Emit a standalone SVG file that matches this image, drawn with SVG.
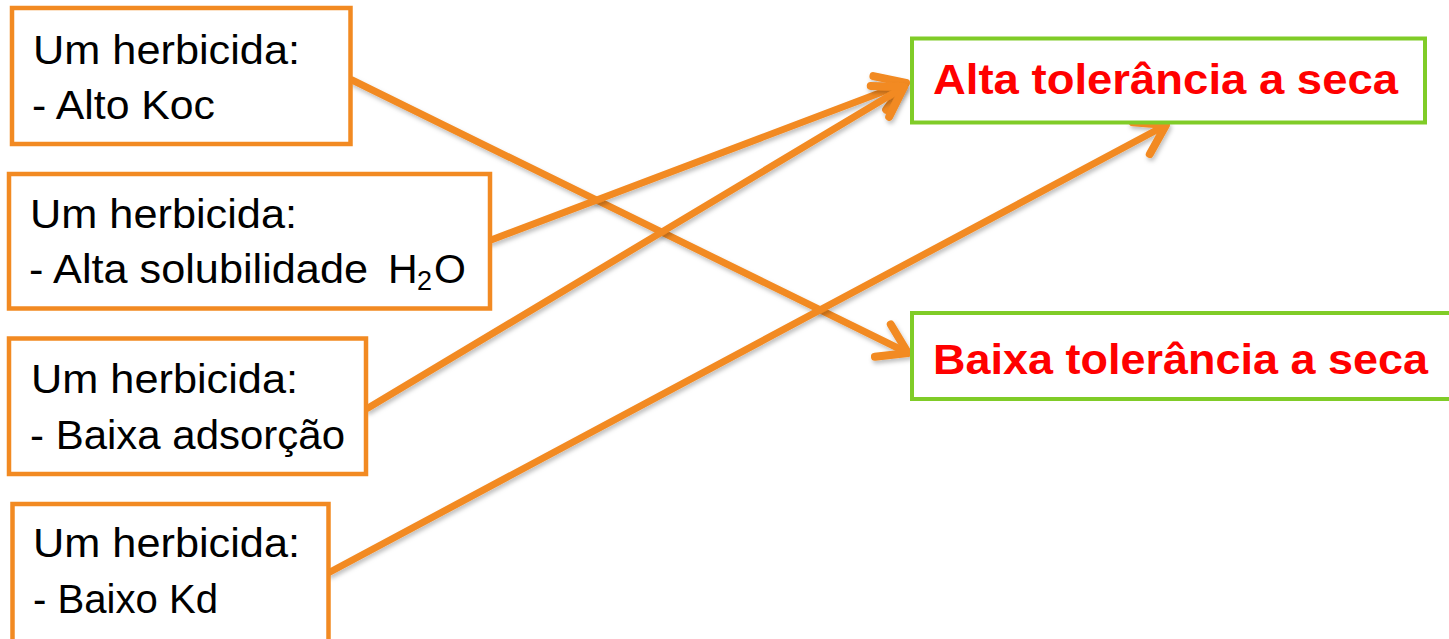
<svg xmlns="http://www.w3.org/2000/svg" width="1449" height="639" viewBox="0 0 1449 639">
<style>
  .src { fill: #ffffff; stroke: #F28A22; stroke-width: 4.5; }
  .dst { fill: #ffffff; stroke: #80CC28; stroke-width: 4; }
  .lbl { font-family: "Liberation Sans", Arial, sans-serif; font-size: 41px; fill: #000000; }
  .sub { font-family: "Liberation Sans", Arial, sans-serif; font-size: 27px; fill: #000000; }
  .res { font-family: "Liberation Sans", Arial, sans-serif; font-size: 42px; font-weight: bold; fill: #FF0000; }
  .conn { stroke: #F28A22; stroke-width: 7; fill: none; stroke-linecap: round; marker-end: url(#arrow); filter: url(#shadow); }
</style>
<defs>
  <marker id="arrow" markerUnits="userSpaceOnUse" markerWidth="60" markerHeight="60" refX="30" refY="30" orient="auto" overflow="visible">
    <path d="M2,12 L30,30 L2,48" fill="none" stroke="#F28A22" stroke-width="8" stroke-linecap="round" stroke-linejoin="round"/>
  </marker>
  <filter id="shadow" x="-10%" y="-10%" width="120%" height="130%">
    <feDropShadow dx="1.5" dy="3" stdDeviation="2" flood-color="#000000" flood-opacity="0.25"/>
  </filter>
</defs>
<rect width="1449" height="639" fill="#ffffff"/>

<g id="connectors">
  <line class="conn" x1="352" y1="80" x2="908" y2="353"/>
  <line class="conn" x1="491" y1="240" x2="906" y2="83"/>
  <line class="conn" x1="368" y1="408" x2="904" y2="87"/>
  <line class="conn" x1="330" y1="572" x2="1166" y2="125"/>
</g>

<g id="node-alto-koc">
  <rect class="src" x="12" y="8" width="338.5" height="136"/>
  <text class="lbl" x="33" y="64" textLength="267" lengthAdjust="spacingAndGlyphs">Um herbicida:</text>
  <text class="lbl" x="32" y="119" textLength="183" lengthAdjust="spacingAndGlyphs">- Alto Koc</text>
</g>

<g id="node-alta-solubilidade">
  <rect class="src" x="9" y="174" width="481" height="134.5"/>
  <text class="lbl" x="30" y="228" textLength="267" lengthAdjust="spacingAndGlyphs">Um herbicida:</text>
  <text class="lbl" x="29" y="283" textLength="339" lengthAdjust="spacingAndGlyphs">- Alta solubilidade</text>
  <text class="lbl" x="388" y="283">H</text>
  <text class="sub" x="417" y="290">2</text>
  <text class="lbl" x="434" y="283">O</text>
</g>

<g id="node-baixa-adsorcao">
  <rect class="src" x="9" y="338.5" width="357" height="135.5"/>
  <text class="lbl" x="31" y="393" textLength="267" lengthAdjust="spacingAndGlyphs">Um herbicida:</text>
  <text class="lbl" x="30" y="449" textLength="315" lengthAdjust="spacingAndGlyphs">- Baixa adsorção</text>
</g>

<g id="node-baixo-kd">
  <rect class="src" x="12.5" y="504" width="316" height="150"/>
  <text class="lbl" x="33" y="557" textLength="267" lengthAdjust="spacingAndGlyphs">Um herbicida:</text>
  <text class="lbl" x="33" y="613" textLength="185" lengthAdjust="spacingAndGlyphs">- Baixo Kd</text>
</g>

<g id="node-alta-tolerancia">
  <rect class="dst" x="912" y="38.5" width="513" height="84"/>
  <text class="res" x="933" y="94" textLength="465" lengthAdjust="spacingAndGlyphs">Alta tolerância a seca</text>
</g>

<g id="node-baixa-tolerancia">
  <rect class="dst" x="912" y="313" width="560" height="86"/>
  <text class="res" x="933" y="374" textLength="495" lengthAdjust="spacingAndGlyphs">Baixa tolerância a seca</text>
</g>
</svg>
